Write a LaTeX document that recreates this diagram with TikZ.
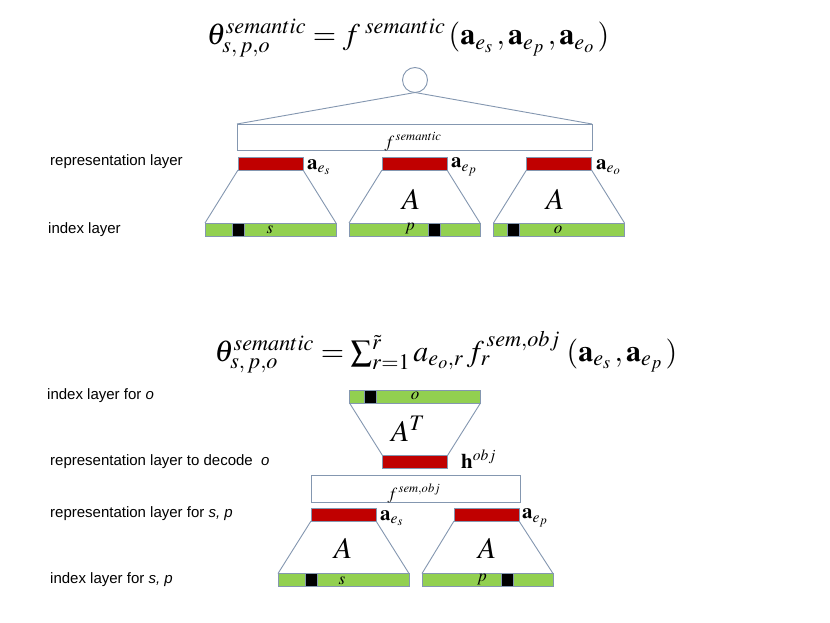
\documentclass[tikz,border=0pt]{standalone}
\usepackage{mathptmx}
\usepackage{fontspec}
\setmainfont{Liberation Sans}
\definecolor{lineC}{HTML}{8497B0}
\definecolor{barred}{HTML}{C00000}
\definecolor{bargreen}{HTML}{92D050}
\tikzset{
  outl/.style={draw=lineC, line width=0.9pt},
  redbar/.style={rectangle, fill=barred, draw=lineC, line width=0.9pt, minimum width=65pt, minimum height=13pt, inner sep=0pt, outer sep=0pt},
  greenbar/.style={rectangle, fill=bargreen, draw=lineC, line width=0.9pt, minimum width=131pt, minimum height=13pt, inner sep=0pt, outer sep=0pt},
  blk/.style={rectangle, fill=black, draw=lineC, line width=0.5pt, minimum width=12pt, minimum height=13pt, inner sep=0pt, outer sep=0pt},
  fbox/.style={rectangle, draw=lineC, line width=0.9pt, fill=white, inner sep=0pt, outer sep=0pt},
  lbl/.style={anchor=west, inner sep=0pt, font=\fontsize{15}{18}\selectfont},
  bigA/.style={inner sep=0pt, font=\fontsize{30}{34}\selectfont},
  alab/.style={anchor=west, inner sep=0pt, font=\fontsize{21}{25}\selectfont},
  cellL/.style={inner sep=0pt, font=\fontsize{17}{20}\selectfont},
  formula/.style={inner sep=0pt, font=\fontsize{30}{35}\selectfont}
}
\begin{document}
\begin{tikzpicture}[x=1pt, y=-1pt]
\useasboundingbox (0,0) rectangle (830,623);
\fill[white] (0,0) rectangle (830,623);

% ---------- top part ----------
\node[formula] (F1) at (408,38) {$\theta^{semantic}_{s,\,p,o} = f^{\;semantic}\,(\mathbf{a}_{e_s}\,,\mathbf{a}_{e_p}\,,\mathbf{a}_{e_o}\,)$};

\node[circle, draw=lineC, line width=0.9pt, minimum size=25pt, inner sep=0pt, outer sep=0pt] (c) at (415,80) {};
\node[fbox, minimum width=355pt, minimum height=26pt] (fs) at (414.5,137) {};
\draw[outl] (c.south) -- (fs.north west);
\draw[outl] (c.south) -- (fs.north east);
\node[anchor=base, inner sep=0pt, font=\fontsize{17}{19}\selectfont] (fsl) at (413,147) {$f^{\,semantic}$};

\node[redbar] (r1) at (270.5,163.5) {};
\node[redbar] (r2) at (414.5,163.5) {};
\node[redbar] (r3) at (559,163.5) {};
\node[greenbar] (g1) at (270.5,229.5) {};
\node[greenbar] (g2) at (414.5,229.5) {};
\node[greenbar] (g3) at (559,229.5) {};
\draw[outl] (r1.south west) -- (g1.north west);
\draw[outl] (r1.south east) -- (g1.north east);
\draw[outl] (r2.south west) -- (g2.north west);
\draw[outl] (r2.south east) -- (g2.north east);
\draw[outl] (r3.south west) -- (g3.north west);
\draw[outl] (r3.south east) -- (g3.north east);
\node[blk] (b1) at (238,229.5) {};
\node[blk] (b2) at (434,229.5) {};
\node[blk] (b3) at (513,229.5) {};
\node[cellL] (s1) at (270,230) {$s$};
\node[cellL] (p1) at (410,229) {$p$};
\node[cellL] (o1) at (558,230) {$o$};
\node[bigA] (A2) at (411,199) {$A$};
\node[bigA] (A3) at (555,199) {$A$};
\node[alab] (ae1) at (307,167) {$\mathbf{a}_{e_s}$};
\node[alab] (ae2) at (451,167) {$\mathbf{a}_{e_p}$};
\node[alab] (ae3) at (596,167) {$\mathbf{a}_{e_o}$};

\node[lbl] (t1) at (50,162) {representation layer};
\node[lbl] (t2) at (48,230) {index layer};

% ---------- bottom part ----------
\node[formula] (F2) at (446,352) {$\theta^{semantic}_{s,\,p,o} = \textstyle\sum_{r=1}^{\tilde r} a_{e_o,r}\, f_r^{\,sem,obj}\;(\mathbf{a}_{e_s}\,,\mathbf{a}_{e_p}\,)$};

\node[greenbar] (go) at (415,396.5) {};
\node[blk] (bo) at (370,396.5) {};
\node[cellL] (oo) at (415,396) {$o$};
\node[redbar] (rh) at (415,462) {};
\draw[outl] (go.south west) -- (rh.north west);
\draw[outl] (go.south east) -- (rh.north east);
\node[bigA] (AT) at (408,429) {$A^T$};
\node[alab] (hobj) at (461,459) {$\mathbf{h}^{obj}$};

\node[fbox, minimum width=209pt, minimum height=27pt] (fso) at (415.5,488.5) {};
\node[anchor=base, inner sep=0pt, font=\fontsize{17}{19}\selectfont] (fsol) at (414,499) {$f^{\,sem,obj}$};

\node[redbar] (rs) at (343.5,514.5) {};
\node[redbar] (rp) at (486.5,514.5) {};
\node[greenbar] (gs) at (343.5,580) {};
\node[greenbar] (gp) at (487.5,580) {};
\draw[outl] (rs.south west) -- (gs.north west);
\draw[outl] (rs.south east) -- (gs.north east);
\draw[outl] (rp.south west) -- (gp.north west);
\draw[outl] (rp.south east) -- (gp.north east);
\node[blk] (bs) at (311,580) {};
\node[blk] (bp) at (507,580) {};
\node[cellL] (ss) at (342,581) {$s$};
\node[cellL] (pp) at (482,580) {$p$};
\node[bigA] (As) at (343,548) {$A$};
\node[bigA] (Ap) at (487,548) {$A$};
\node[alab] (aes) at (380,518) {$\mathbf{a}_{e_s}$};
\node[alab] (aep) at (522,518) {$\mathbf{a}_{e_p}$};

\node[lbl] (u1) at (47,396) {index layer for \textit{o}};
\node[lbl] (u2) at (50,462) {representation layer to decode\ \ \textit{o}};
\node[lbl] (u3) at (50,514) {representation layer for \textit{s, p}};
\node[lbl] (u4) at (50,580) {index layer for \textit{s, p}};
\end{tikzpicture}
\end{document}
